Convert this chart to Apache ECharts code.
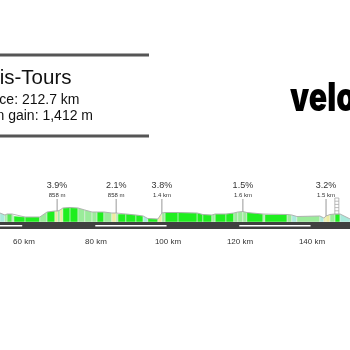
<!DOCTYPE html>
<html>
<head>
<meta charset="utf-8">
<script src="https://cdn.jsdelivr.net/npm/echarts@6/dist/echarts.min.js"></script>
<style>
  html, body { margin: 0; padding: 0; background: #fff; }
  #chart { width: 350px; height: 350px; }
</style>
</head>
<body>
<div id="chart"></div>
<script>
// Stage profile: distance (km) and elevation (m) at each profile vertex
const profileKm = [53.3, 54.7, 55.3, 56.7, 57.2, 60.3, 64.4, 66.4, 68.6, 69.4,
  70.0, 70.8, 72.8, 75.0, 76.9, 78.9, 80.3, 82.2, 84.4, 85.6,
  86.1, 88.3, 91.1, 93.1, 94.4, 97.2, 98.3, 99.2, 102.8, 108.1,
  109.7, 112.2, 113.1, 116.1, 118.3, 119.4, 120.8, 121.9, 126.4, 126.9,
  133.1, 134.4, 135.8, 142.2, 143.3, 143.9, 145.0, 146.4, 147.8, 150.6];
const profileElev = [136, 120, 128, 128, 112, 104, 104, 144, 152, 152,
  160, 176, 180, 176, 160, 144, 144, 144, 136, 136,
  128, 128, 120, 112, 92, 88, 136, 140, 140, 136,
  124, 120, 128, 128, 136, 144, 148, 140, 128, 124,
  124, 120, 108, 112, 96, 112, 124, 128, 128, 88];
// Gradient class of each stretch between consecutive vertices
// g: steady, m: moderate, l: gentle, y: steep, c: descent
const segmentClass = ['c', 'l', 'm', 'l', 'g', 'g', 'l', 'g', 'y', 'l',
  'y', 'g', 'g', 'l', 'l', 'l', 'g', 'l', 'y', 'l',
  'g', 'g', 'g', 'c', 'g', 'y', 'l', 'g', 'g', 'g',
  'g', 'l', 'g', 'g', 'l', 'l', 'l', 'g', 'l', 'g',
  'l', 'c', 'l', 'c', 'y', 'y', 'l', 'g', 'c'];

// Categorised climbs
const climbKm = [69.2, 85.6, 98.3, 120.8, 143.9];
const climbElev = [152, 136, 136, 148, 112];
const climbGrade = ['3.9%', '2.1%', '3.8%', '1.5%', '3.2%'];
const climbLength = ['858 m', '858 m', '1.4 km', '1.6 km', '1.5 km'];

// Intermediate sprint marker
const sprintKm = [146.9];
const sprintElev = [128];

// Road centre-line dashes (km)
const roadStripes = [[40, 59.5], [79.8, 99.6], [119.8, 139.6]];

// Distance axis
const axisMinKm = 40;
const axisMaxKm = 160;
const axisStepKm = 20;

// Race facts
const raceName = 'Paris-Tours';
const raceDistance = 'Distance: 212.7 km';
const raceGain = 'Elevation gain: 1,412 m';

const GROUND = 64;   // elevation of the profile base line (m)

const classColor = {
  g: '#1fee1f',
  m: '#55ea55',
  l: '#9aeb9a',
  y: '#ececa0',
  c: '#a8eadb'
};

const segments = [];
for (let i = 0; i < profileKm.length - 1; i++) {
  segments.push([profileKm[i], profileElev[i], profileKm[i + 1], profileElev[i + 1], i]);
}
const climbs = climbKm.map((k, i) => [k, climbElev[i], i]);

const FONT = '"Liberation Sans", Arial, sans-serif';

const chart = echarts.init(document.getElementById('chart'), null, { renderer: 'canvas' });

chart.setOption({
  animation: false,
  backgroundColor: '#fff',
  grid: { left: -48, right: -34, top: 130, bottom: 120, containLabel: false, outerBoundsMode: 'none' },
  xAxis: {
    type: 'value',
    min: axisMinKm,
    max: axisMaxKm,
    interval: axisStepKm,
    axisLine: { show: false },
    axisTick: { show: false },
    splitLine: { show: false },
    axisLabel: {
      formatter: '{value} km',
      color: '#333',
      fontSize: 8,
      fontFamily: FONT,
      margin: 8
    }
  },
  yAxis: {
    type: 'value',
    min: 0,
    max: 800,
    show: false
  },
  graphic: [
    { type: 'rect', shape: { x: 0, y: 53.5, width: 149, height: 3 }, style: { fill: '#555' } },
    { type: 'rect', shape: { x: 0, y: 134.5, width: 149, height: 3 }, style: { fill: '#555' } },
    { type: 'text', x: 71.5, y: 78.5, style: { text: raceName, font: '20.5px ' + FONT, fill: '#111', align: 'right', verticalAlign: 'middle' } },
    { type: 'text', x: 79.5, y: 100.5, style: { text: raceDistance, font: '14px ' + FONT, fill: '#111', align: 'right', verticalAlign: 'middle' } },
    { type: 'text', x: 93, y: 116, style: { text: raceGain, font: '14px ' + FONT, fill: '#111', align: 'right', verticalAlign: 'middle' } },
    { type: 'text', x: 290, y: 99, scaleX: 0.76, style: { text: 'velo', font: '900 40px Inter, ' + FONT, fill: '#000', align: 'left', verticalAlign: 'middle' } }
  ],
  series: [
    {
      name: 'profile',
      type: 'custom',
      z: 2,
      data: segments,
      renderItem: function (params, api) {
        const k0 = api.value(0), e0 = api.value(1), k1 = api.value(2), e1 = api.value(3);
        const cls = segmentClass[api.value(4)];
        return {
          type: 'polygon',
          shape: { points: [api.coord([k0, GROUND]), api.coord([k0, e0]), api.coord([k1, e1]), api.coord([k1, GROUND])] },
          style: { fill: classColor[cls], stroke: 'rgba(235,240,235,0.8)', lineWidth: 0.6 }
        };
      }
    },
    {
      name: 'outline',
      type: 'line',
      z: 3,
      data: profileKm.map((k, i) => [k, profileElev[i]]),
      showSymbol: false,
      symbol: 'none',
      lineStyle: { color: '#9a9a9a', width: 0.7 }
    },
    {
      name: 'road',
      type: 'custom',
      z: 4,
      data: [[axisMinKm]],
      renderItem: function (params, api) {
        const top = api.coord([axisMinKm, GROUND])[1];
        return {
          type: 'rect',
          shape: { x: params.coordSys.x, y: top, width: params.coordSys.width, height: 7 },
          style: { fill: '#404040' }
        };
      }
    },
    {
      name: 'stripes',
      type: 'custom',
      z: 5,
      data: roadStripes,
      renderItem: function (params, api) {
        const a = api.coord([api.value(0), GROUND]);
        const b = api.coord([api.value(1), GROUND]);
        return {
          type: 'rect',
          shape: { x: a[0], y: a[1] + 3, width: b[0] - a[0], height: 1.6 },
          style: { fill: '#fff' }
        };
      }
    },
    {
      name: 'climbs',
      type: 'custom',
      z: 6,
      data: climbs,
      renderItem: function (params, api) {
        const i = api.value(2);
        const p = api.coord([api.value(0), api.value(1)]);
        const base = api.coord([api.value(0), GROUND]);
        const top = base[1] - 23;
        return {
          type: 'group',
          children: [
            { type: 'line', shape: { x1: p[0], y1: p[1], x2: p[0], y2: top }, style: { stroke: '#999', lineWidth: 1 } },
            { type: 'text', style: { text: climbGrade[i], x: p[0], y: top - 13, font: '9px ' + FONT, fill: '#333', align: 'center', verticalAlign: 'middle' } },
            { type: 'text', style: { text: climbLength[i], x: p[0], y: top - 3.8, font: '6px ' + FONT, fill: '#333', align: 'center', verticalAlign: 'middle' } }
          ]
        };
      }
    },
    {
      name: 'sprint',
      type: 'custom',
      z: 6,
      data: sprintKm.map((k, i) => [k, sprintElev[i]]),
      renderItem: function (params, api) {
        const p = api.coord([api.value(0), api.value(1)]);
        const h = 16, w = 4;
        const children = [
          { type: 'rect', shape: { x: p[0] - w / 2, y: p[1] - h, width: w, height: h }, style: { fill: 'rgba(255,255,255,0.6)', stroke: '#aaa', lineWidth: 0.8 } }
        ];
        for (let r = 1; r < 5; r++) {
          const y = p[1] - h + r * h / 5;
          children.push({ type: 'line', shape: { x1: p[0] - w / 2, y1: y, x2: p[0] + w / 2, y2: y }, style: { stroke: '#aaa', lineWidth: 0.8 } });
        }
        return { type: 'group', children: children };
      }
    }
  ]
});
</script>
</body>
</html>
